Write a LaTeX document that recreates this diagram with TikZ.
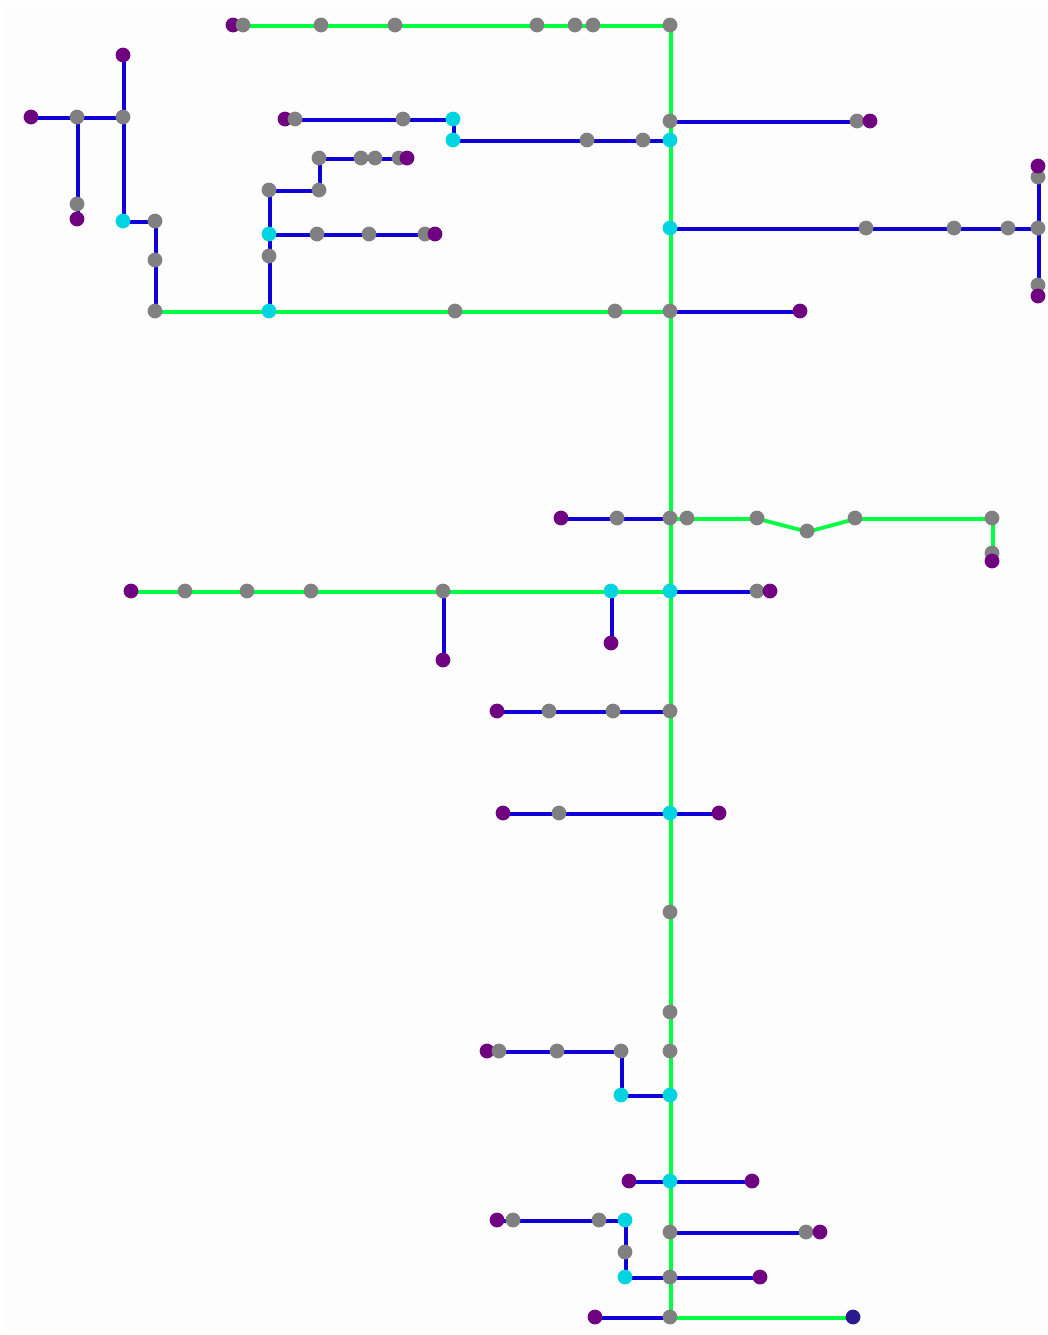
\documentclass[tikz,border=0pt]{standalone}
\usetikzlibrary{backgrounds}
\definecolor{pagebg}{HTML}{FDFDFD}
\definecolor{pur}{HTML}{6F0080}
\definecolor{gry}{HTML}{808080}
\definecolor{cyn}{HTML}{00D4E0}
\definecolor{blu}{HTML}{1000D8}
\definecolor{grn}{HTML}{00FF40}
\definecolor{nvy}{HTML}{2A1A90}
\tikzset{
  dot/.style={circle,inner sep=0pt,outer sep=0pt,minimum size=7.4pt,draw=none},
  purdot/.style={dot,fill=pur},
  grydot/.style={dot,fill=gry},
  cyndot/.style={dot,fill=cyn},
  nvydot/.style={dot,fill=nvy},
  wire/.style={line width=1.9pt,line join=round,transform canvas={xshift=.4pt,yshift=-.4pt}},
  bluewire/.style={wire,draw=blu},
  greenwire/.style={wire,draw=grn},
}
\newcommand{\wirechain}[2]{%
  \foreach \p [remember=\p as \q (initially none)] in {#2}{%
    \ifx\q\noneword\else\draw[#1] (n\q.center)--(n\p.center);\fi}}
\def\noneword{none}
\begin{document}
\begin{tikzpicture}[x=0.5pt,y=-0.5pt]
\useasboundingbox (0,0) rectangle (1048,1335);
% purple ends lying under their neighbour
\foreach \x/\y in {233/25,285/119,487/1051,497/1220}
  \node[purdot] (n\x-\y) at (\x,\y) {};
% grey nodes
\foreach \x/\y in {243/25,321/25,395/25,537/25,575/25,593/25,670/25,
  670/121,670/311,670/518,670/711,670/912,670/1012,670/1051,670/1232,670/1277,670/1317,
  857/121,403/119,295/119,643/140,587/140,
  866/228,954/228,1008/228,1038/228,1038/177,1038/285,
  615/311,455/311,155/311,155/260,155/221,123/117,77/117,77/204,
  269/256,269/190,319/190,319/158,361/158,375/158,399/158,
  317/234,369/234,425/234,
  617/518,687/518,757/518,807/531,855/518,992/518,992/553,
  757/591,443/591,311/591,247/591,185/591,
  613/711,549/711,559/813,
  621/1051,557/1051,499/1051,
  806/1232,625/1252,599/1220,513/1220}
  \node[grydot] (n\x-\y) at (\x,\y) {};
% cyan nodes
\foreach \x/\y in {670/140,670/228,670/591,670/813,670/1095,670/1181,
  453/119,453/140,269/311,269/234,123/221,611/591,621/1095,625/1220,625/1277}
  \node[cyndot] (n\x-\y) at (\x,\y) {};
% purple ends on top
\foreach \x/\y in {123/55,31/117,77/219,407/158,435/234,870/121,1038/166,1038/296,800/311,
  561/518,992/561,770/591,131/591,443/660,611/643,497/711,503/813,719/813,
  629/1181,752/1181,820/1232,760/1277,595/1317}
  \node[purdot] (n\x-\y) at (\x,\y) {};
\node[nvydot] (n853-1317) at (853,1317) {};
\begin{scope}[on background layer]
\fill[pagebg] (6,2) rectangle (1048,1333);
% green wires
\wirechain{greenwire}{243-25,321-25,395-25,537-25,575-25,593-25,670-25}
\wirechain{greenwire}{670-25,670-121,670-140,670-228,670-311,670-518,670-591,670-711,670-813,670-912,670-1012,670-1051,670-1095,670-1181,670-1232,670-1277,670-1317}
\wirechain{greenwire}{670-311,615-311,455-311,269-311,155-311}
\wirechain{greenwire}{670-518,687-518,757-518,807-531,855-518,992-518,992-553,992-561}
\wirechain{greenwire}{670-591,611-591,443-591,311-591,247-591,185-591,131-591}
\wirechain{greenwire}{670-1317,853-1317}
% blue wires
\wirechain{bluewire}{670-121,857-121,870-121}
\wirechain{bluewire}{670-140,643-140,587-140,453-140,453-119,403-119,295-119,285-119}
\wirechain{bluewire}{670-228,866-228,954-228,1008-228,1038-228}
\wirechain{bluewire}{1038-166,1038-177,1038-228,1038-285,1038-296}
\wirechain{bluewire}{670-311,800-311}
\wirechain{bluewire}{155-311,155-260,155-221,123-221,123-117,123-55}
\wirechain{bluewire}{123-117,77-117,31-117}
\wirechain{bluewire}{77-117,77-204,77-219}
\wirechain{bluewire}{269-311,269-256,269-234,269-190,319-190,319-158,361-158,375-158,399-158,407-158}
\wirechain{bluewire}{269-234,317-234,369-234,425-234,435-234}
\wirechain{bluewire}{670-518,617-518,561-518}
\wirechain{bluewire}{670-591,757-591,770-591}
\wirechain{bluewire}{443-591,443-660}
\wirechain{bluewire}{611-591,611-643}
\wirechain{bluewire}{670-711,613-711,549-711,497-711}
\wirechain{bluewire}{670-813,559-813,503-813}
\wirechain{bluewire}{670-813,719-813}
\wirechain{bluewire}{670-1095,621-1095,621-1051,557-1051,499-1051,487-1051}
\wirechain{bluewire}{629-1181,670-1181,752-1181}
\wirechain{bluewire}{670-1232,806-1232,820-1232}
\wirechain{bluewire}{760-1277,670-1277,625-1277,625-1252,625-1220,599-1220,513-1220,497-1220}
\wirechain{bluewire}{670-1317,595-1317}
\end{scope}
\end{tikzpicture}
\end{document}
